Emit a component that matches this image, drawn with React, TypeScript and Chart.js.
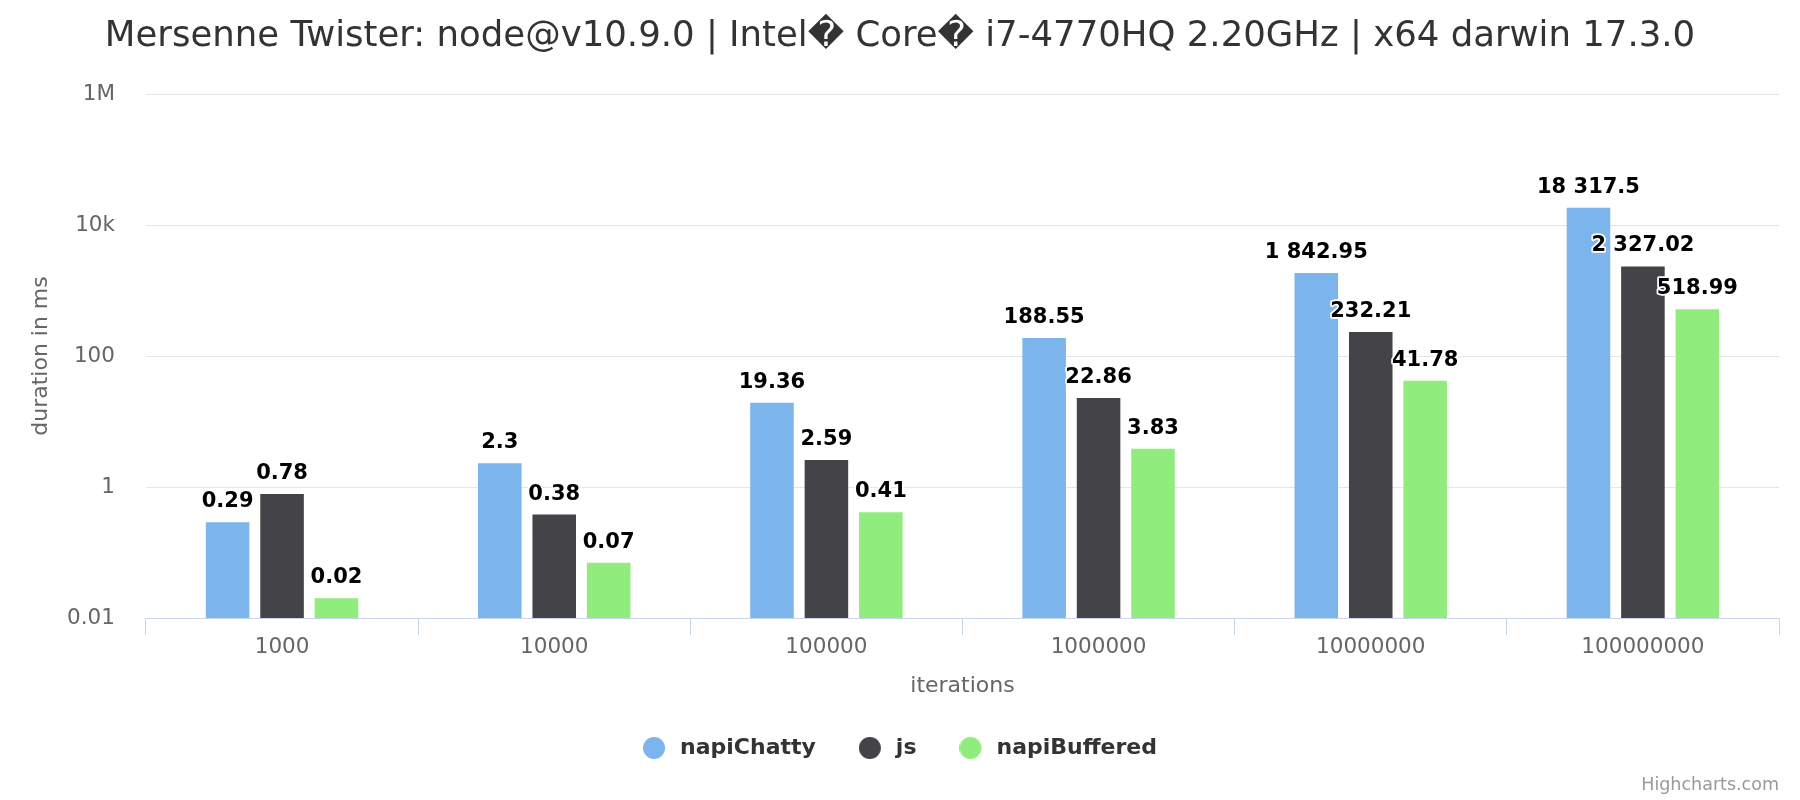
import React, { useEffect, useRef } from 'react';
import { Chart, registerables } from 'chart.js';

Chart.register(...registerables);

const chartTitle = 'Mersenne Twister: node@v10.9.0 | Intel\uFFFD Core\uFFFD i7-4770HQ 2.20GHz | x64 darwin 17.3.0';
const categories = ['1000', '10000', '100000', '1000000', '10000000', '100000000'];
const seriesNames = ['napiChatty', 'js', 'napiBuffered'];
const napiChatty = [0.29, 2.3, 19.36, 188.55, 1842.95, 18317.5];
const jsValues = [0.78, 0.38, 2.59, 22.86, 232.21, 2327.02];
const napiBuffered = [0.02, 0.07, 0.41, 3.83, 41.78, 518.99];
const seriesColors = ['#7cb5ec', '#434348', '#90ed7d'];
const yTickValues = [0.01, 1, 100, 10000, 1000000];
const yTickLabels = ['0.01', '1', '100', '10k', '1M'];
const xAxisTitle = 'iterations';
const yAxisTitle = 'duration in ms';
const creditsText = 'Highcharts.com';

const FONT = '"DejaVu Sans", sans-serif';

function formatNum(v: number): string {
  const s = String(v);
  const [intPart, dec] = s.split('.');
  const grouped = intPart.replace(/\B(?=(\d{3})+(?!\d))/g, ' ');
  return dec !== undefined ? grouped + '.' + dec : grouped;
}

function makeLegendDot(color: string): HTMLCanvasElement {
  const c = document.createElement('canvas');
  c.width = 26;
  c.height = 24;
  const g = c.getContext('2d');
  if (g) {
    g.fillStyle = color;
    g.beginPath();
    g.arc(11, 12, 11, 0, Math.PI * 2);
    g.fill();
  }
  return c;
}

const dataLabelPlugin = {
  id: 'hcDataLabels',
  afterDatasetsDraw(chart: any) {
    const ctx = chart.ctx;
    ctx.save();
    ctx.font = 'bold 21px ' + FONT;
    ctx.textAlign = 'center';
    ctx.textBaseline = 'alphabetic';
    ctx.lineJoin = 'round';
    chart.data.datasets.forEach((ds: any, di: number) => {
      if (!chart.isDatasetVisible(di)) return;
      const meta = chart.getDatasetMeta(di);
      meta.data.forEach((el: any, i: number) => {
        const text = formatNum(ds.data[i]);
        const { x, y } = el.getProps(['x', 'y'], true);
        ctx.strokeStyle = '#ffffff';
        ctx.lineWidth = 3.5;
        ctx.strokeText(text, x, y - 15);
        ctx.fillStyle = '#000000';
        ctx.fillText(text, x, y - 15);
      });
    });
    ctx.restore();
  },
};

const creditsPlugin = {
  id: 'hcCredits',
  afterDraw(chart: any) {
    const ctx = chart.ctx;
    ctx.save();
    ctx.font = '17.5px ' + FONT;
    ctx.fillStyle = '#999999';
    ctx.textAlign = 'right';
    ctx.textBaseline = 'middle';
    ctx.fillText(creditsText, 1779, 785);
    ctx.restore();
  },
};

export default function App() {
  const canvasRef = useRef<HTMLCanvasElement | null>(null);

  useEffect(() => {
    if (!canvasRef.current) return;
    Chart.defaults.font.family = FONT;
    const values = [napiChatty, jsValues, napiBuffered];
    const dots = seriesColors.map((c) => makeLegendDot(c));
    const chart = new Chart(canvasRef.current, {
      type: 'bar',
      data: {
        labels: categories,
        datasets: seriesNames.map((name, i) => ({
          label: name,
          data: values[i],
          backgroundColor: seriesColors[i],
          borderWidth: 0,
          categoryPercentage: 0.6,
          barPercentage: 0.8,
          pointStyle: dots[i],
        })),
      },
      options: {
        animation: false,
        responsive: false,
        maintainAspectRatio: false,
        layout: { padding: { top: 0, left: 21, right: 21, bottom: 31 } },
        plugins: {
          title: {
            display: true,
            text: chartTitle,
            color: '#333333',
            font: { size: 35.5, weight: 'normal', family: FONT },
            padding: { top: 15.2, bottom: 36.2 },
          },
          legend: {
            display: true,
            position: 'bottom',
            labels: {
              usePointStyle: true,
              boxHeight: 16,
              pointStyleWidth: 26,
              padding: 43,
              color: '#333333',
              font: { size: 22, weight: 'bold', family: FONT },
            },
          },
          tooltip: { enabled: false },
        },
        scales: {
          x: {
            type: 'category',
            offset: true,
            grid: {
              display: true,
              offset: true,
              drawOnChartArea: false,
              drawTicks: true,
              tickLength: 17,
              color: '#ccd6eb',
              lineWidth: 1,
            },
            border: { display: true, color: '#ccd6eb', width: 1 },
            ticks: {
              color: '#666666',
              font: { size: 21.5, family: FONT },
              padding: 0,
              maxRotation: 0,
              autoSkip: false,
            },
            title: {
              display: true,
              text: xAxisTitle,
              color: '#666666',
              font: { size: 22, family: FONT },
              padding: { top: 12.3, bottom: -5.5 },
            },
          },
          y: {
            type: 'logarithmic',
            min: 0.01,
            max: 1000000,
            afterBuildTicks: (scale: any) => {
              scale.ticks = yTickValues.map((v) => ({ value: v }));
            },
            grid: {
              display: true,
              drawTicks: false,
              color: '#e6e6e6',
              lineWidth: 1,
            },
            border: { display: false },
            ticks: {
              color: '#666666',
              font: { size: 21.5, family: FONT },
              padding: 31,
              callback: (value: any) => {
                const idx = yTickValues.findIndex((v) => Math.abs(v - Number(value)) < v * 1e-6);
                return idx >= 0 ? yTickLabels[idx] : '';
              },
            },
            title: {
              display: true,
              text: yAxisTitle,
              color: '#666666',
              font: { size: 22, family: FONT },
              padding: { top: 6.8, bottom: -18.1 },
            },
          },
        },
      },
      plugins: [dataLabelPlugin, creditsPlugin],
    } as any);
    return () => chart.destroy();
  }, []);

  return (
    <div style={{ position: 'absolute', left: 0, top: 0, width: 1800, height: 800, background: '#ffffff' }}>
      <canvas ref={canvasRef} width={1800} height={800} style={{ display: 'block', width: 1800, height: 800 }} />
    </div>
  );
}
